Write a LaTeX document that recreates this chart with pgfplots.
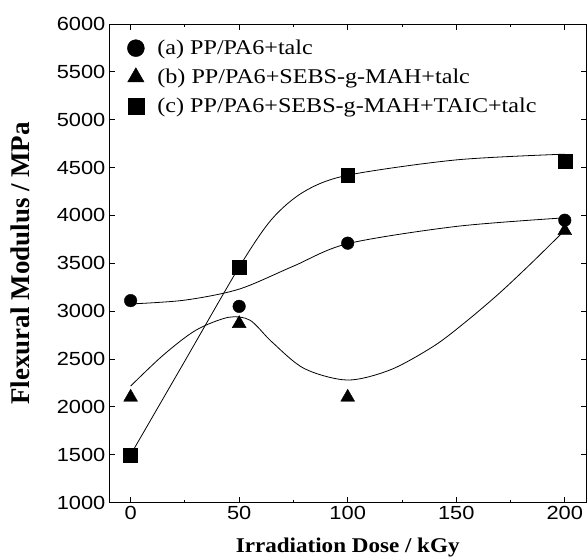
\documentclass[border=0pt]{standalone}
\usepackage{fontspec}
\setmainfont{Liberation Serif}
\newfontfamily\legfont[FakeStretch=1.15]{Liberation Serif}
\newfontfamily\labfont[FakeStretch=1.1]{Liberation Serif}
\newfontfamily\ylabfont{Liberation Serif}
\newfontfamily\tickfont[FakeStretch=1.15]{Liberation Sans}
\usepackage{pgfplots}
\pgfplotsset{compat=1.18}

\begin{document}
\begin{tikzpicture}
\begin{axis}[
    name=ax,
    at={(0,0)}, anchor=south west,
    scale only axis,
    width=478pt, height=479pt,
    xmin=-10, xmax=210,
    ymin=1000, ymax=6000,
    xtick={0,50,100,150,200},
    minor xtick={25,75,125,175},
    ytick={1000,1500,...,6000},
    tick align=inside,
    major tick length=6pt,
    minor tick length=3pt,
    tick style={black, line width=0.8pt},
    axis line style={line width=0.8pt},
    /pgf/number format/assume math mode=true,
    /pgf/number format/1000 sep={},
    tick label style={font=\tickfont\fontsize{19}{19}\selectfont},
    xlabel={\bfseries Irradiation Dose / kGy},
    ylabel={\bfseries Flexural Modulus / MPa},
    xlabel style={font=\labfont\fontsize{21}{21}\selectfont, at={(axis description cs:0.5,-0.094)}, anchor=center},
    ylabel style={font=\ylabfont\fontsize{27}{27}\selectfont, at={(axis description cs:-0.186,0.5)}, anchor=center},
    legend style={draw=none, fill=none, at={(axis description cs:0.032,0.975)}, anchor=north west,
        font=\legfont\fontsize{21}{24}\selectfont, row sep=9pt, column sep=11pt},
    legend cell align=left,
]
% legend entries with larger markers
\addlegendimage{only marks, mark=*, mark size=8.5pt, black}
\addlegendentry{(a) PP/PA6+talc}
\addlegendimage{only marks, mark=triangle*, mark size=9.5pt, black}
\addlegendentry{(b) PP/PA6+SEBS-g-MAH+talc}
\addlegendimage{only marks, mark=square*, mark size=8pt, black}
\addlegendentry{(c) PP/PA6+SEBS-g-MAH+TAIC+talc}

% measured points
\addplot[only marks, mark=*, mark size=6.3pt, black, forget plot] coordinates {
    (0,3110) (50,3050) (100,3710) (200,3950)
};
\addplot[only marks, mark=triangle*, mark size=8pt, black, forget plot] coordinates {
    (0,2100) (50,2870) (100,2100) (200,3840)
};
\addplot[only marks, mark=square*, mark size=7pt, black, forget plot] coordinates {
    (0,1500) (50,3460) (100,4420) (200,4570)
};

% fitted curves
\addplot[black, line width=0.8pt, smooth, forget plot] coordinates {
    (0,3075) (25,3115) (50,3230) (75,3470) (100,3705) (150,3885) (200,3975)
};
\addplot[black, line width=0.8pt, smooth, forget plot] coordinates {
    (0,2217) (15,2540) (30,2800) (45,2935) (55,2905) (65,2680) (80,2400)
    (100,2280) (120,2390) (140,2640) (155,2900) (170,3190) (185,3510) (200,3845)
};
\addplot[black, line width=0.8pt, smooth, forget plot] coordinates {
    (0,1500) (25,2480) (50,3460) (65,3960) (80,4250) (100,4420)
    (150,4580) (200,4640)
};
\end{axis}
\pgfresetboundingbox
\path (-109pt,-57pt) rectangle (478.5pt,503pt);
\end{tikzpicture}
\end{document}
